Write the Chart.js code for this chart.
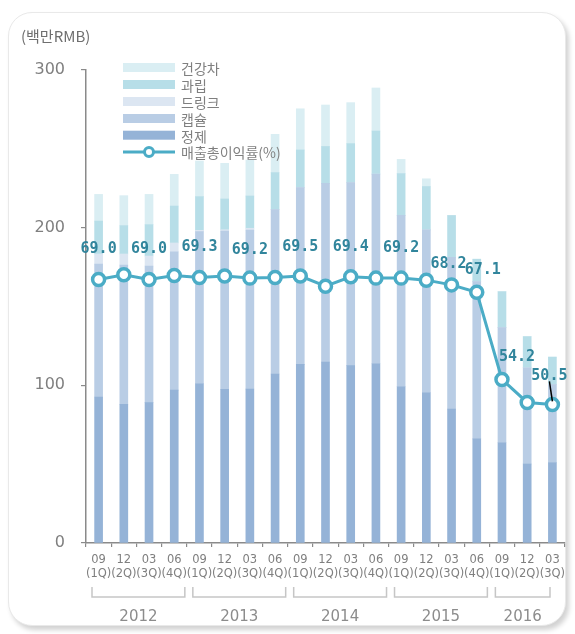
<!DOCTYPE html>
<html><head><meta charset="utf-8">
<script src="https://cdn.jsdelivr.net/npm/chart.js@4.4.0/dist/chart.umd.min.js"></script>
<style>
html,body{margin:0;padding:0;background:#fff;}
#wrap{position:relative;width:575px;height:634px;overflow:hidden;}
#card{position:absolute;left:8px;top:12px;width:556px;height:612px;border:1px solid #e9e9e9;border-radius:24px;box-shadow:3px 4px 5px rgba(0,0,0,0.18);background:#fff;}
canvas{position:absolute;left:0;top:0;}
</style></head><body>
<div id="wrap"><div id="card"></div><canvas id="c" width="575" height="634"></canvas></div>
<script>
// ---- data ----
const catMonths = ['09','12','03','06','09','12','03','06','09','12','03','06','09','12','03','06','09','12','03'];
const catQuarters = ['(1Q)','(2Q)','(3Q)','(4Q)','(1Q)','(2Q)','(3Q)','(4Q)','(1Q)','(2Q)','(3Q)','(4Q)','(1Q)','(2Q)','(3Q)','(4Q)','(1Q)','(2Q)','(3Q)'];
const yearLabels = ['2012','2013','2014','2015','2016'];
const yearStart = [0,4,8,12,16];
const yearEnd = [3,7,11,15,18];
const yTicks = [0,100,200,300];

const tablet  = [92.6,88.0,89.0,97.0,101.0,97.5,97.7,107.2,113.3,114.8,112.5,113.7,99.1,95.3,85.0,66.0,63.6,50.1,50.9];
const capsule = [84.3,88.3,86.7,87.7,96.5,100.4,100.8,104.2,112.2,113.3,116.1,120.3,108.7,103.3,96.2,99.8,73.0,61.0,49.6];
const drink   = [6.4,7.0,6.3,5.6,0.8,0.8,1.1,0,0,0,0,0,0,0,0,0,0,0,0];
const granule = [20.9,18.0,19.9,23.4,21.4,19.5,20.5,23.5,23.8,23.4,24.7,27.3,26.5,27.5,26.5,14.2,22.8,19.8,17.4];
const tea     = [16.9,19.0,19.2,20.1,22.6,22.6,22.8,24.3,26.1,26.3,26.0,27.3,9.0,4.9,0,0,0,0,0];
const margin  = [69.0,69.7,69.0,69.6,69.3,69.5,69.2,69.3,69.5,68.0,69.4,69.2,69.2,68.9,68.2,67.1,54.2,50.8,50.5];
const showLabel = [1,0,1,0,1,0,1,0,1,0,1,0,1,0,1,1,1,0,1];

// ---- styles ----
const labelOffsets = [[0,-30],[0,-30],[0,-30],[0,-30],[0,-30],[0,-30],[0,-28],[0,-30],[0,-29],[0,-30],[0,-30],[0,-30],[0,-30],[0,-30],[-3,-21],[6,-22],[15,-22],[0,-28],[-3,-28]];
const C_TABLET='#95b3d7', C_CAPSULE='#b9cde5', C_DRINK='#dce6f2', C_GRANULE='#b7dee8', C_TEA='#daeef3', C_LINE='#4bacc6', C_LABEL='#31859c';
const AXIS='#8a8a8a', TXT='#7f7f7f';

const labels = catMonths.map((m,i)=>[m,catQuarters[i]]);
function bar(label,data,color){return {type:'bar',label,data,backgroundColor:color,barThickness:8,order:1,stack:'s',borderWidth:0};}

const legendItems = [
  {t:'건강차',c:C_TEA},{t:'과립',c:C_GRANULE},{t:'드링크',c:C_DRINK},{t:'캡슐',c:C_CAPSULE},{t:'정제',c:C_TABLET},{t:'매출총이익률(%)',c:C_LINE,line:true}
];

const extras = {
  id:'extras',
  afterDatasetsDraw(chart){
    const ctx=chart.ctx;
    const meta=chart.getDatasetMeta(5);
    ctx.save();
    ctx.font='bold 15px "DejaVu Sans Mono"';
    ctx.fillStyle=C_LABEL;
    ctx.textAlign='center';ctx.textBaseline='middle';
    meta.data.forEach((pt,i)=>{
      if(!showLabel[i])return;
      ctx.fillText(margin[i].toFixed(1),pt.x+labelOffsets[i][0],pt.y+labelOffsets[i][1]);
    });
    // leader line for last label
    const last=meta.data[meta.data.length-1];
    ctx.strokeStyle='#000';ctx.lineWidth=1.5;
    ctx.beginPath();ctx.moveTo(last.x-3,last.y-23);ctx.lineTo(last.x,last.y-3);ctx.stroke();
    ctx.restore();
  },
  afterDraw(chart){
    const ctx=chart.ctx, xs=chart.scales.x, area=chart.chartArea;
    ctx.save();
    // unit title
    ctx.font='15px "Noto Sans CJK KR"';ctx.fillStyle='#6f6f6f';ctx.textAlign='left';ctx.textBaseline='middle';
    ctx.fillText('(백만RMB)',21,36);
    // legend
    const rowY=[67.5,84.5,101.5,118.5,135.2,152];
    ctx.font='14px "Noto Sans CJK KR"';
    legendItems.forEach((it,i)=>{
      const y=rowY[i];
      if(it.line){
        ctx.strokeStyle=it.c;ctx.lineWidth=3;
        ctx.beginPath();ctx.moveTo(123,y);ctx.lineTo(175,y);ctx.stroke();
        ctx.beginPath();ctx.arc(149,y,4.5,0,Math.PI*2);ctx.fillStyle='#fff';ctx.fill();ctx.lineWidth=3;ctx.stroke();
      } else {
        ctx.fillStyle=it.c;ctx.fillRect(123,y-4.5,52,9);
      }
      ctx.fillStyle=TXT;ctx.fillText(it.t,181,y+1);
    });
    // year brackets
    const step=(xs.getPixelForValue(1)-xs.getPixelForValue(0));
    ctx.strokeStyle='#c6c6c6';ctx.lineWidth=1.5;
    ctx.font='15px "DejaVu Sans"';ctx.fillStyle='#8c8c8c';ctx.textAlign='center';
    yearLabels.forEach((yl,g)=>{
      let x1=xs.getPixelForValue(yearStart[g])-step/2+6;
      let x2=Math.min(xs.getPixelForValue(yearEnd[g])+step/2-2, area.right-15);
      ctx.beginPath();ctx.moveTo(x1,587);ctx.lineTo(x1,597);ctx.lineTo(x2,597);ctx.lineTo(x2,587);ctx.stroke();
      ctx.fillText(yl,(x1+x2)/2,617);
    });
    ctx.restore();
  }
};

new Chart(document.getElementById('c'),{
  data:{
    labels,
    datasets:[
      bar('정제',tablet,C_TABLET),
      bar('캡슐',capsule,C_CAPSULE),
      bar('드링크',drink,C_DRINK),
      bar('과립',granule,C_GRANULE),
      bar('건강차',tea,C_TEA),
      {type:'line',label:'매출총이익률(%)',data:margin,yAxisID:'y1',order:0,borderColor:C_LINE,borderWidth:3,
       pointRadius:6,pointBorderWidth:3.5,pointBackgroundColor:'#fff',pointBorderColor:C_LINE,tension:0}
    ]
  },
  options:{
    responsive:false,animation:false,
    layout:{padding:{left:0,right:10,top:70,bottom:0}},
    plugins:{legend:{display:false},tooltip:{enabled:false}},
    scales:{
      x:{stacked:true,offset:true,
        grid:{display:true,drawOnChartArea:false,drawTicks:true,tickLength:4,color:AXIS,offset:true,lineWidth:1.2},
        border:{display:true,color:AXIS,width:1.5},
        ticks:{autoSkip:false,maxRotation:0,minRotation:0,color:TXT,padding:6,font:{family:'DejaVu Sans',size:11.5,lineHeight:1.2}},
        afterFit(s){s.height=91;}
      },
      y:{stacked:true,min:0,max:300,
        afterBuildTicks(s){s.ticks=yTicks.map(v=>({value:v}));},
        grid:{display:true,drawOnChartArea:false,drawTicks:true,tickLength:5,color:AXIS,lineWidth:1.2},
        border:{display:true,color:AXIS,width:1.5},
        ticks:{color:TXT,padding:16,font:{family:'DejaVu Sans',size:16}},
        afterFit(s){s.width=86;}
      },
      y1:{display:false,min:30,max:100}
    }
  },
  plugins:[extras]
});
</script>
</body></html>
